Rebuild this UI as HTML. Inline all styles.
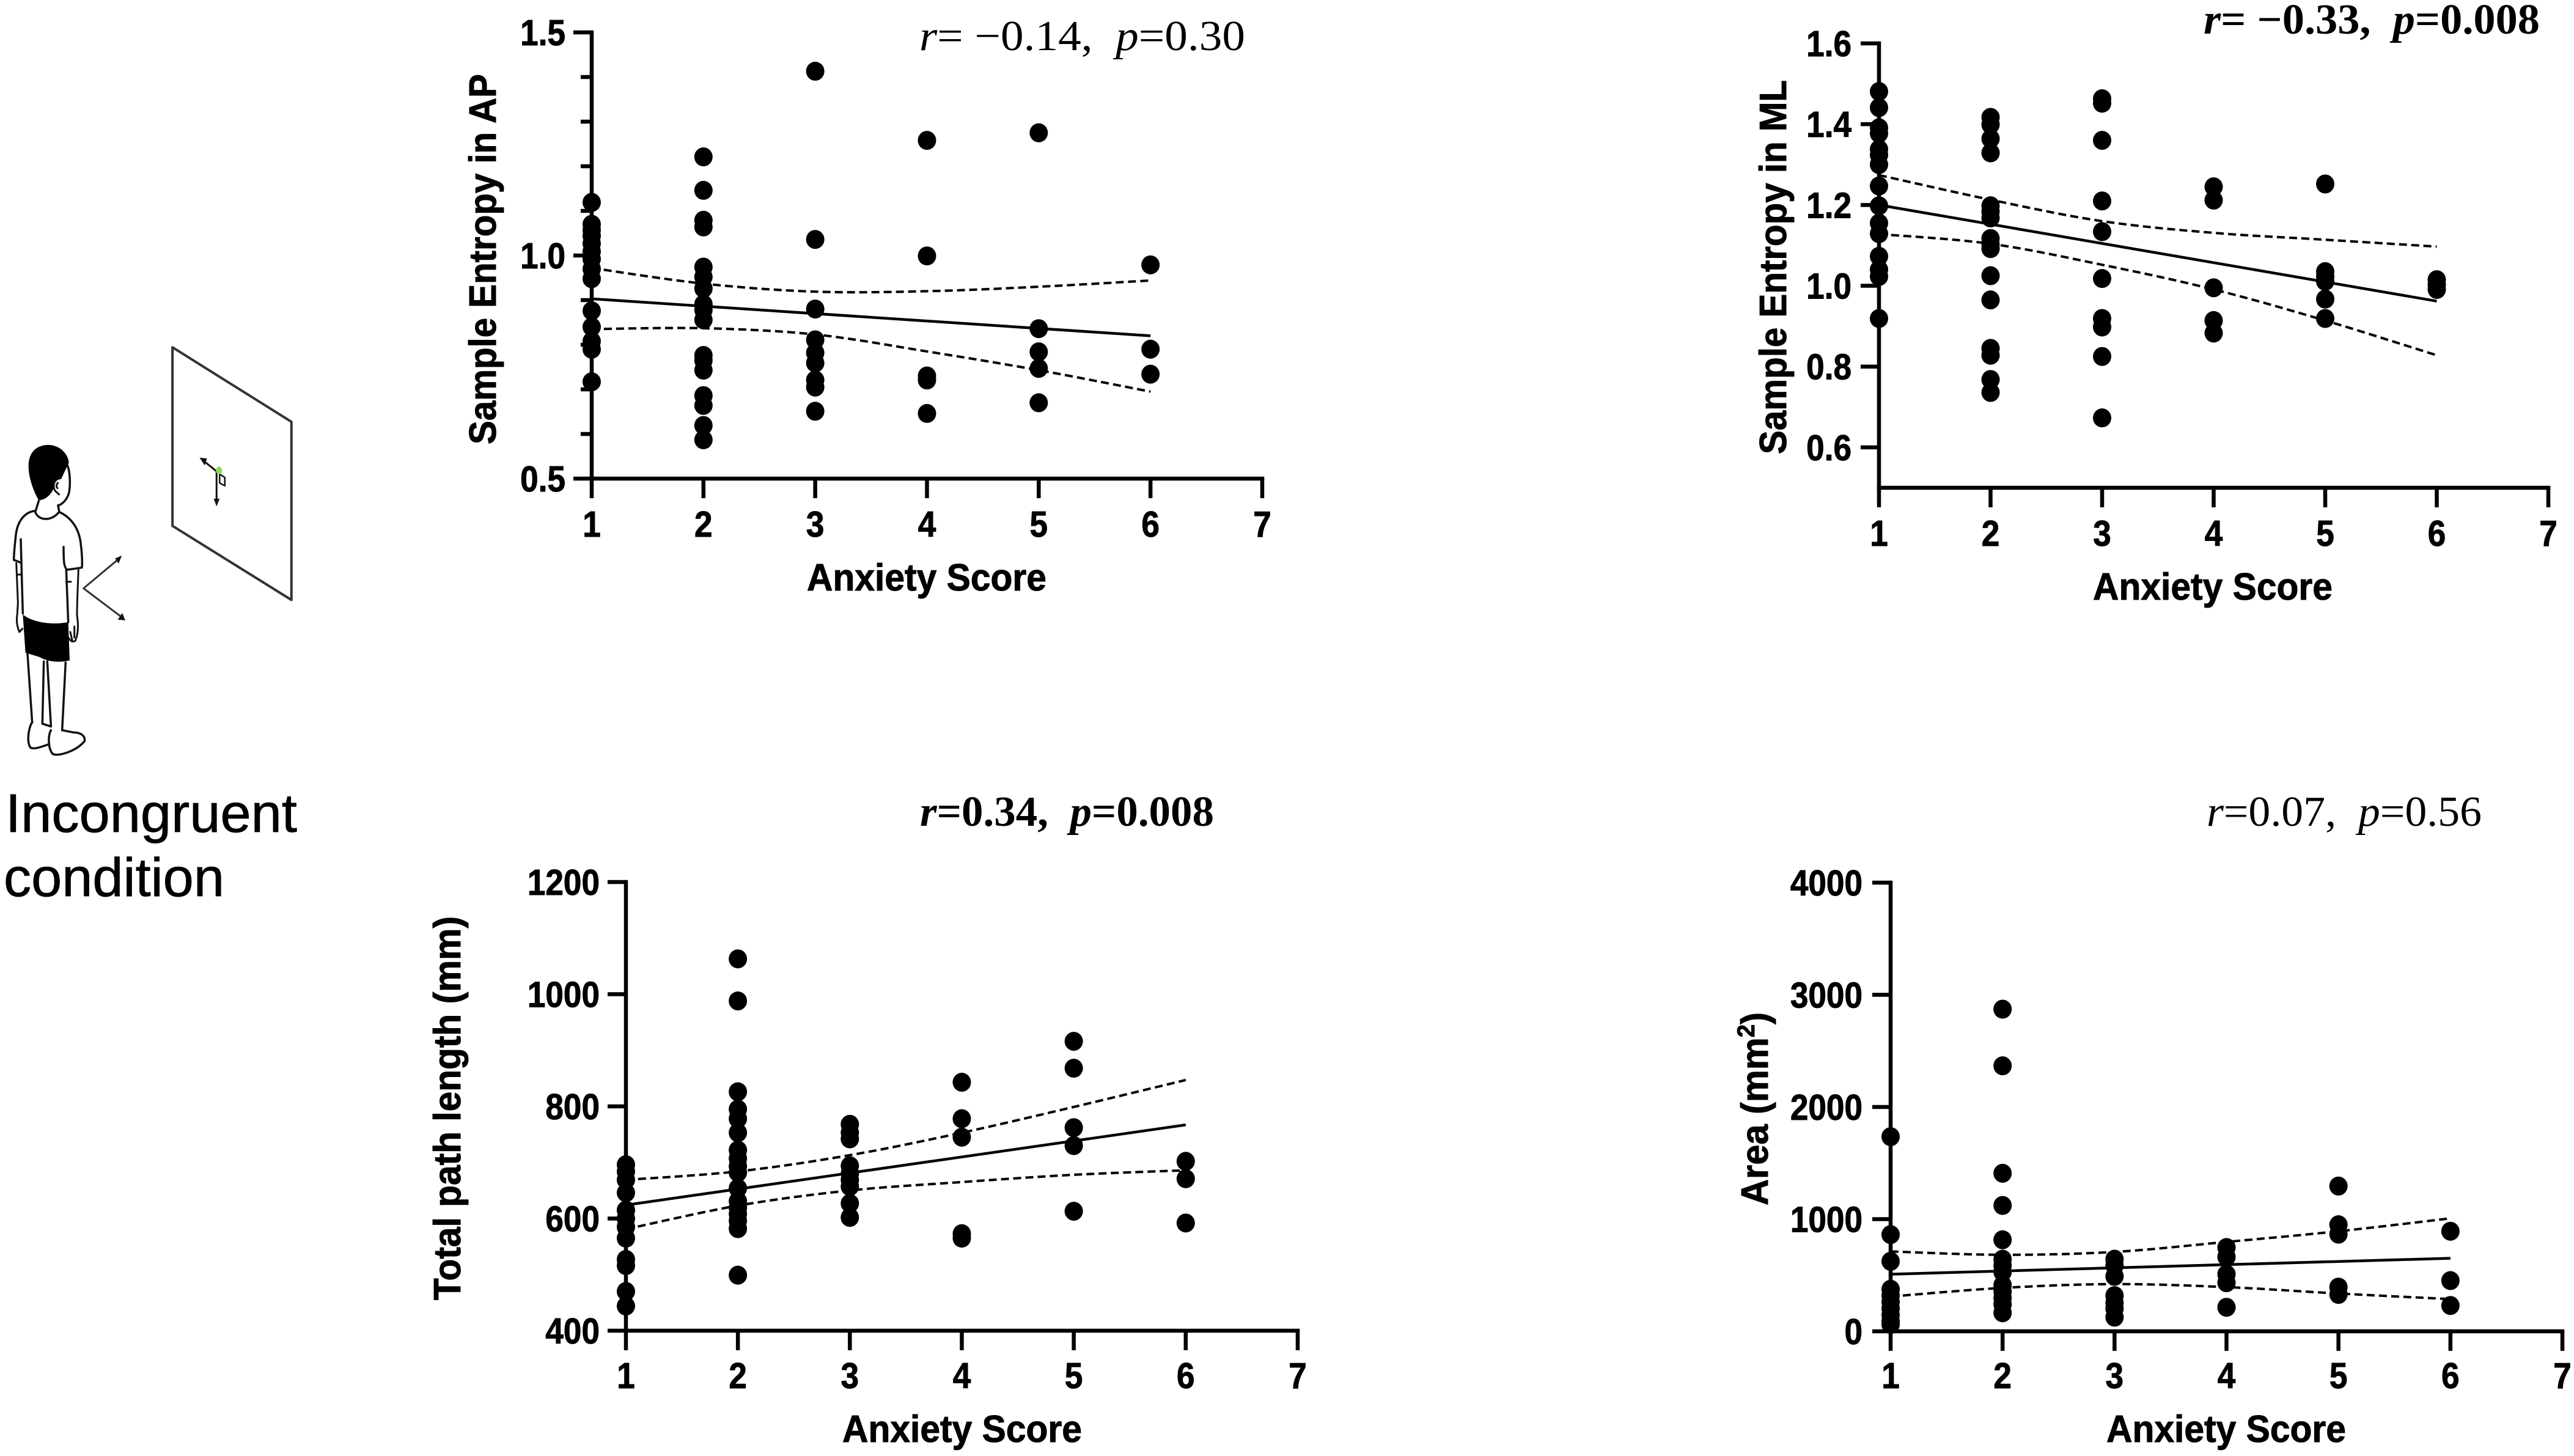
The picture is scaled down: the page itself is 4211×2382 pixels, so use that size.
<!DOCTYPE html>
<html lang="en">
<head>
<meta charset="utf-8">
<title>Anxiety score correlations, incongruent condition</title>
<style>
html,body{margin:0;padding:0;background:#fff;}
svg{display:block;}
text{fill:#000;white-space:pre;}
.sans{font-family:"Liberation Sans",Arial,sans-serif;stroke:#000;stroke-width:0.8px;}
.bold{font-family:"Liberation Sans",Arial,sans-serif;font-weight:700;stroke:#000;stroke-width:1px;}
.serif{font-family:"Liberation Serif","Times New Roman",serif;}
</style>
</head>
<body>
<svg id="figure" xmlns="http://www.w3.org/2000/svg" width="4211" height="2382" viewBox="0 0 4211 2382">
  <rect width="4211" height="2382" fill="#fff"/>

  <g transform="translate(0,500) scale(0.35714,0.63776)" fill="none" stroke="#111" stroke-linejoin="round" stroke-linecap="round">
    <path d="M790 107 L1335 298 L1335 755 L790 565 Z" stroke="#333" style="stroke-width:4px" vector-effect="non-scaling-stroke"/>
    <path d="M992 425 L930 397" stroke-width="3" vector-effect="non-scaling-stroke"/>
    <path d="M914 390 L948 392 L938 410 Z" fill="#111" stroke="none"/>
    <path d="M992 425 L992 498" stroke-width="3" vector-effect="non-scaling-stroke"/>
    <path d="M979 495 L1006 495 L992 515 Z" fill="#111" stroke="none"/>
    <path d="M1006 432 L1030 441 L1030 462 L1006 455 Z" stroke-width="2.5" vector-effect="non-scaling-stroke"/>
    <ellipse cx="1003" cy="423" rx="14" ry="10" fill="#8fd65a" stroke="none"/>
  </g>

  <g transform="translate(0,700) scale(0.33333,0.35714)" fill="none" stroke="#111" stroke-linejoin="round" stroke-linecap="round">
    <path d="M330 170 C345 200 345 260 340 290 C335 320 310 350 285 355" stroke-width="3.5" vector-effect="non-scaling-stroke"/>
    <path d="M190 332 C165 290 140 230 140 175 C140 120 170 80 235 78 C295 78 335 120 338 160 C325 185 310 215 300 235 C280 235 265 250 265 275 C255 295 235 328 190 332 Z" fill="#000" stroke="none"/>
    <path d="M275 240 C262 250 260 275 272 290 L290 305 M284 252 C276 258 276 272 282 276" stroke-width="3" vector-effect="non-scaling-stroke"/>
    <path d="M190 335 L175 380 M285 355 L290 380" stroke-width="3.5" vector-effect="non-scaling-stroke"/>
    <path d="M172 382 C185 425 250 432 290 385" stroke-width="3.5" vector-effect="non-scaling-stroke"/>
    <path d="M172 380 C120 385 85 430 78 490 C72 540 68 580 68 605 L105 618 M102 510 L108 720 L112 850" stroke-width="3.5" vector-effect="non-scaling-stroke"/>
    <path d="M290 385 C350 410 385 460 395 520 C402 570 405 610 402 640 L330 650 C315 640 312 620 312 545 M325 650 L335 890" stroke-width="3.5" vector-effect="non-scaling-stroke"/>
    <path d="M80 620 L88 800 L85 850 C80 880 82 905 95 935 L110 920 M85 672 L105 672" stroke-width="3" vector-effect="non-scaling-stroke"/>
    <path d="M385 650 C382 720 378 800 378 860 C385 900 385 940 370 975 C355 985 345 975 335 960 M325 705 L348 705 M365 910 L365 960 M345 935 L355 975" stroke-width="3" vector-effect="non-scaling-stroke"/>
    <path d="M112 855 C160 890 250 905 335 890 L342 1065 C300 1075 240 1075 195 1050 L125 1030 Z" fill="#000" stroke="none"/>
    <path d="M135 1035 L158 1350 M215 1070 L208 1355 M232 1070 L250 1365 M322 1075 L305 1385" stroke-width="3.5" vector-effect="non-scaling-stroke"/>
    <path d="M155 1352 C140 1380 130 1440 150 1465 C175 1475 215 1455 240 1450 M208 1355 L250 1368" stroke-width="3.5" vector-effect="non-scaling-stroke"/>
    <path d="M250 1385 C235 1410 235 1470 260 1495 C300 1505 380 1475 415 1435 C420 1410 395 1395 360 1395 L305 1385" stroke-width="3.5" vector-effect="non-scaling-stroke"/>
    <path d="M578 604 L410 735 L590 862" stroke="#333" stroke-width="3" vector-effect="non-scaling-stroke"/>
    <path d="M598 585 L565 598 L582 622 Z" fill="#111" stroke="none"/>
    <path d="M615 882 L578 878 L600 848 Z" fill="#111" stroke="none"/>
  </g>

  <text class="sans" x="9" y="1361" font-size="89" textLength="477" lengthAdjust="spacingAndGlyphs">Incongruent</text>
  <text class="sans" x="6" y="1466" font-size="89" textLength="361" lengthAdjust="spacingAndGlyphs">condition</text>

  <g id="panel-ap"></g>
  <g id="panel-ml"></g>
  <g id="panel-path"></g>
  <g id="panel-area"></g>

  <text class="bold" transform="translate(811,424) rotate(-90)" text-anchor="middle" font-size="62" textLength="606" lengthAdjust="spacingAndGlyphs">Sample Entropy in AP</text>
  <text class="bold" x="1516" y="966" text-anchor="middle" font-size="62" textLength="392" lengthAdjust="spacingAndGlyphs">Anxiety Score</text>
  <text class="serif" x="1504" y="82" font-size="70" textLength="533" lengthAdjust="spacingAndGlyphs"><tspan font-style="italic">r</tspan>= −0.14,  <tspan font-style="italic">p</tspan>=0.30</text>

  <text class="bold" transform="translate(2922,437) rotate(-90)" text-anchor="middle" font-size="62" textLength="612" lengthAdjust="spacingAndGlyphs">Sample Entropy in ML</text>
  <text class="bold" x="3620" y="981" text-anchor="middle" font-size="62" textLength="392" lengthAdjust="spacingAndGlyphs">Anxiety Score</text>
  <text class="serif" x="3605" y="55" font-size="70" font-weight="700" textLength="550" lengthAdjust="spacingAndGlyphs"><tspan font-style="italic">r</tspan>= −0.33,  <tspan font-style="italic">p</tspan>=0.008</text>

  <text class="bold" transform="translate(753,1813) rotate(-90)" text-anchor="middle" font-size="62" textLength="628" lengthAdjust="spacingAndGlyphs">Total path length (mm)</text>
  <text class="bold" x="1574" y="2359" text-anchor="middle" font-size="62" textLength="392" lengthAdjust="spacingAndGlyphs">Anxiety Score</text>
  <text class="serif" x="1505" y="1351" font-size="70" font-weight="700" textLength="481" lengthAdjust="spacingAndGlyphs"><tspan font-style="italic">r</tspan>=0.34,  <tspan font-style="italic">p</tspan>=0.008</text>

  <text class="bold" transform="translate(2892,1814) rotate(-90)" text-anchor="middle" font-size="62" textLength="316" lengthAdjust="spacingAndGlyphs">Area (mm<tspan font-size="40" dy="-22">2</tspan><tspan dy="22">)</tspan></text>
  <text class="bold" x="3642" y="2359" text-anchor="middle" font-size="62" textLength="392" lengthAdjust="spacingAndGlyphs">Anxiety Score</text>
  <text class="serif" x="3610" y="1351" font-size="70" textLength="450" lengthAdjust="spacingAndGlyphs"><tspan font-style="italic">r</tspan>=0.07,  <tspan font-style="italic">p</tspan>=0.56</text>
</svg>

<script>
// Shared categories
const xTickLabels = [1, 2, 3, 4, 5, 6, 7];
const ciScores = [1, 2, 3, 4, 5, 6];
const fitScores = [1, 6];

// Sample Entropy in AP
const apYTicks = [0.5, 1.0, 1.5];
const apYMinorTicks = [0.6, 0.7, 0.8, 0.9, 1.1, 1.2, 1.3, 1.4];
const apScore1 = [1.119, 1.07, 1.057, 1.044, 1.027, 1.009, 0.992, 0.97, 0.948, 0.876, 0.84, 0.808, 0.79, 0.717];
const apScore2 = [1.221, 1.146, 1.079, 1.064, 0.974, 0.952, 0.926, 0.891, 0.878, 0.856, 0.776, 0.765, 0.743, 0.686, 0.664, 0.619, 0.587];
const apScore3 = [1.413, 1.036, 0.88, 0.811, 0.782, 0.759, 0.721, 0.705, 0.651];
const apScore4 = [1.258, 0.999, 0.73, 0.721, 0.646];
const apScore5 = [1.275, 0.836, 0.784, 0.747, 0.67];
const apScore6 = [0.979, 0.79, 0.734];
const apFit = [0.903, 0.82];
const apUpper = [0.972, 0.937, 0.919, 0.92, 0.93, 0.944];
const apLower = [0.835, 0.837, 0.823, 0.785, 0.743, 0.695];

// Sample Entropy in ML
const mlYTicks = [0.6, 0.8, 1.0, 1.2, 1.4, 1.6];
const mlScore1 = [1.481, 1.441, 1.391, 1.377, 1.338, 1.324, 1.3, 1.247, 1.198, 1.155, 1.129, 1.073, 1.04, 1.023, 0.919];
const mlScore2 = [1.417, 1.399, 1.364, 1.329, 1.198, 1.184, 1.168, 1.117, 1.102, 1.092, 1.025, 0.965, 0.845, 0.828, 0.768, 0.736];
const mlScore3 = [1.463, 1.452, 1.36, 1.21, 1.134, 1.018, 0.919, 0.898, 0.825, 0.673];
const mlScore4 = [1.245, 1.212, 0.995, 0.914, 0.883];
const mlScore5 = [1.252, 1.035, 1.023, 1.011, 0.967, 0.919];
const mlScore6 = [1.015, 1.003, 0.991];
const mlFit = [1.2, 0.962];
const mlUpper = [1.274, 1.213, 1.16, 1.131, 1.114, 1.097];
const mlLower = [1.128, 1.104, 1.052, 0.991, 0.914, 0.828];

// Total path length
const pathYTicks = [400, 600, 800, 1000, 1200];
const pathScore1 = [696, 684, 669, 646, 615, 600, 585, 565, 527, 516, 470, 444];
const pathScore2 = [1063, 988, 826, 795, 778, 753, 722, 707, 693, 682, 654, 631, 619, 608, 596, 582, 499];
const pathScore3 = [768, 753, 742, 694, 680, 669, 657, 627, 602];
const pathScore4 = [843, 778, 745, 573, 565];
const pathScore5 = [916, 868, 762, 730, 613];
const pathScore6 = [702, 671, 592];
const pathFit = [624, 767];
const pathUpper = [669, 684, 713, 753, 799, 847];
const pathLower = [581, 623, 650, 665, 678, 686];

// Area
const areaYTicks = [0, 1000, 2000, 3000, 4000];
const areaScore1 = [1735, 862, 624, 375, 318, 260, 203, 145, 88, 61];
const areaScore2 = [2872, 2367, 1409, 1122, 816, 643, 586, 528, 413, 356, 299, 241, 165];
const areaScore3 = [643, 586, 490, 318, 253, 203, 126];
const areaScore4 = [747, 663, 509, 433, 214];
const areaScore5 = [1295, 950, 866, 394, 329];
const areaScore6 = [892, 452, 230];
const areaFit = [509, 651];
const areaUpper = [712, 682, 708, 797, 892, 1007];
const areaLower = [310, 387, 421, 394, 337, 287];

const NS = 'http://www.w3.org/2000/svg';

function make(parent, tag) {
  const el = document.createElementNS(NS, tag);
  parent.appendChild(el);
  return el;
}

function smoothPath(points) {
  let d = 'M' + points[0][0] + ' ' + points[0][1];
  for (let i = 0; i < points.length - 1; i++) {
    const p0 = points[Math.max(i - 1, 0)];
    const p1 = points[i];
    const p2 = points[i + 1];
    const p3 = points[Math.min(i + 2, points.length - 1)];
    d += ' C' + (p1[0] + (p2[0] - p0[0]) / 6) + ' ' + (p1[1] + (p2[1] - p0[1]) / 6) +
         ' ' + (p2[0] - (p3[0] - p1[0]) / 6) + ' ' + (p2[1] - (p3[1] - p1[1]) / 6) +
         ' ' + p2[0] + ' ' + p2[1];
  }
  return d;
}

function condense(label) {
  label.setAttribute('textLength', label.getComputedTextLength() * 0.9);
  label.setAttribute('lengthAdjust', 'spacingAndGlyphs');
}

function drawChart(cfg) {
  const root = document.getElementById(cfg.id);
  const xScale = v => cfg.x1 + (v - 1) * (cfg.x7 - cfg.x1) / 6;
  const yScale = v => cfg.yBottom + (v - cfg.yMin) * (cfg.yTop - cfg.yBottom) / (cfg.yMax - cfg.yMin);
  const W = 6.5;

  const yAxis = make(root, 'line');
  
  
  yAxis.setAttribute('x1', cfg.x1);
  yAxis.setAttribute('x2', cfg.x1);
  yAxis.setAttribute('y1', cfg.yTop - W / 2);
  yAxis.setAttribute('y2', cfg.yBottom + W / 2);
  yAxis.setAttribute('stroke', '#000');
  yAxis.setAttribute('stroke-width', W);

  const xAxis = make(root, 'line');
  
  
  xAxis.setAttribute('x1', cfg.x1 - W / 2);
  xAxis.setAttribute('x2', xScale(7) + W / 2);
  xAxis.setAttribute('y1', cfg.yBottom);
  xAxis.setAttribute('y2', cfg.yBottom);
  xAxis.setAttribute('stroke', '#000');
  xAxis.setAttribute('stroke-width', W);

  xTickLabels.forEach(v => {
    const tick = make(root, 'line');
    
    
    tick.setAttribute('x1', xScale(v));
    tick.setAttribute('x2', xScale(v));
    tick.setAttribute('y1', cfg.yBottom);
    tick.setAttribute('y2', cfg.yBottom + 32);
    tick.setAttribute('stroke', '#000');
    tick.setAttribute('stroke-width', W);

    const label = make(root, 'text');
    
    
    label.setAttribute('class', 'bold');
    label.setAttribute('x', xScale(v));
    label.setAttribute('y', cfg.xLabelY);
    label.setAttribute('text-anchor', 'middle');
    label.setAttribute('font-size', '59');
    label.textContent = v;
    condense(label);
  });

  cfg.yTicks.forEach(v => {
    const y = yScale(v);
    const tick = make(root, 'line');
    
    
    tick.setAttribute('x1', cfg.x1 - 30);
    tick.setAttribute('x2', cfg.x1);
    tick.setAttribute('y1', y);
    tick.setAttribute('y2', y);
    tick.setAttribute('stroke', '#000');
    tick.setAttribute('stroke-width', W);

    const label = make(root, 'text');
    
    
    label.setAttribute('class', 'bold');
    label.setAttribute('x', cfg.yLabelX);
    label.setAttribute('y', y + 21);
    label.setAttribute('text-anchor', 'end');
    label.setAttribute('font-size', '59');
    label.textContent = v.toFixed(cfg.decimals);
    condense(label);
  });

  (cfg.yMinor || []).forEach(v => {
    const y = yScale(v);
    const tick = make(root, 'line');
    
    
    tick.setAttribute('x1', cfg.x1 - 18);
    tick.setAttribute('x2', cfg.x1);
    tick.setAttribute('y1', y);
    tick.setAttribute('y2', y);
    tick.setAttribute('stroke', '#000');
    tick.setAttribute('stroke-width', W);
  });

  const toPoints = arr => arr.map((v, i) => [xScale(ciScores[i]), yScale(v)]);

  const upper = make(root, 'path');
  
  
  upper.setAttribute('d', smoothPath(toPoints(cfg.upper)));
  upper.setAttribute('fill', 'none');
  upper.setAttribute('stroke', '#000');
  upper.setAttribute('stroke-width', '4');
  upper.setAttribute('stroke-dasharray', '13 7');

  const lower = make(root, 'path');
  
  
  lower.setAttribute('d', smoothPath(toPoints(cfg.lower)));
  lower.setAttribute('fill', 'none');
  lower.setAttribute('stroke', '#000');
  lower.setAttribute('stroke-width', '4');
  lower.setAttribute('stroke-dasharray', '13 7');

  const fit = make(root, 'line');
  
  
  fit.setAttribute('x1', xScale(fitScores[0]));
  fit.setAttribute('y1', yScale(cfg.fit[0]));
  fit.setAttribute('x2', xScale(fitScores[1]));
  fit.setAttribute('y2', yScale(cfg.fit[1]));
  fit.setAttribute('stroke', '#000');
  fit.setAttribute('stroke-width', '4.5');

  cfg.groups.forEach((values, g) => {
    values.forEach(v => {
      const dot = make(root, 'ellipse');
      
      
      dot.setAttribute('cx', xScale(ciScores[g]));
      dot.setAttribute('cy', yScale(v));
      dot.setAttribute('rx', '15');
      dot.setAttribute('ry', '15.5');
      dot.setAttribute('fill', '#000');
    });
  });
}

drawChart({
  id: 'panel-ap', x1: 968, x7: 2065, yTop: 53, yBottom: 783, yMin: 0.5, yMax: 1.5,
  yTicks: apYTicks, yMinor: apYMinorTicks, decimals: 1, yLabelX: 925, xLabelY: 878,
  groups: [apScore1, apScore2, apScore3, apScore4, apScore5, apScore6],
  fit: apFit, upper: apUpper, lower: apLower
});
drawChart({
  id: 'panel-ml', x1: 3074, x7: 4169, yTop: 71, yBottom: 798, yMin: 0.5, yMax: 1.6,
  yTicks: mlYTicks, decimals: 1, yLabelX: 3029, xLabelY: 893,
  groups: [mlScore1, mlScore2, mlScore3, mlScore4, mlScore5, mlScore6],
  fit: mlFit, upper: mlUpper, lower: mlLower
});
drawChart({
  id: 'panel-path', x1: 1024, x7: 2123, yTop: 1443, yBottom: 2177, yMin: 400, yMax: 1200,
  yTicks: pathYTicks, decimals: 0, yLabelX: 981, xLabelY: 2271,
  groups: [pathScore1, pathScore2, pathScore3, pathScore4, pathScore5, pathScore6],
  fit: pathFit, upper: pathUpper, lower: pathLower
});
drawChart({
  id: 'panel-area', x1: 3093, x7: 4192, yTop: 1444, yBottom: 2178, yMin: 0, yMax: 4000,
  yTicks: areaYTicks, decimals: 0, yLabelX: 3047, xLabelY: 2271,
  groups: [areaScore1, areaScore2, areaScore3, areaScore4, areaScore5, areaScore6],
  fit: areaFit, upper: areaUpper, lower: areaLower
});
</script>
</body>
</html>
